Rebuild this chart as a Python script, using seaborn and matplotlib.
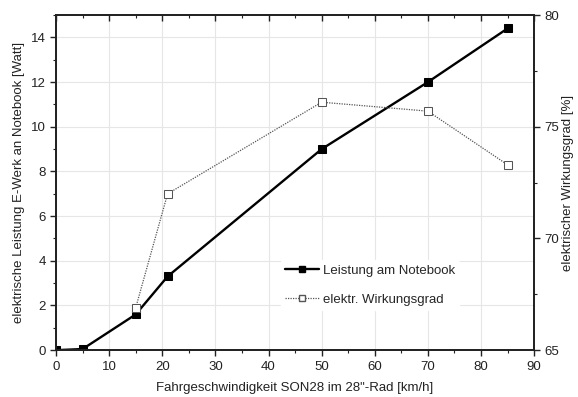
import matplotlib
matplotlib.use("Agg")
import matplotlib.pyplot as plt
from matplotlib.ticker import MultipleLocator
from matplotlib.lines import Line2D
import seaborn as sns
import pandas as pd

# Power delivered to the notebook vs. speed
speed_power = [0, 5, 15, 21, 50, 70, 85]
power_watt = [0.0, 0.05, 1.6, 3.3, 9.0, 12.0, 14.4]

# Electrical efficiency vs. speed
speed_eff = [15, 21, 50, 70, 85]
efficiency_pct = [66.9, 72.0, 76.1, 75.7, 73.3]

x_label = "Fahrgeschwindigkeit SON28 im 28\"-Rad [km/h]"
y_label_left = "elektrische Leistung E-Werk an Notebook [Watt]"
y_label_right = "elektrischer Wirkungsgrad [%]"
legend_power = "Leistung am Notebook"
legend_eff = "elektr. Wirkungsgrad"

sns.set_theme(style="white")
plt.rcParams["font.family"] = ["Liberation Sans", "DejaVu Sans"]
plt.rcParams["font.size"] = 9.5

df_p = pd.DataFrame({"v": speed_power, "P": power_watt})
df_e = pd.DataFrame({"v": speed_eff, "eta": efficiency_pct})

fig = plt.figure(figsize=(5.78, 3.97), dpi=100)
ax = fig.add_axes([0.097, 0.118, 0.827, 0.844])
ax2 = ax.twinx()

grid_col = "#e6e6e6"
ax.set_axisbelow(True)
ax.grid(True, which="major", color=grid_col, linewidth=0.8)

sns.lineplot(data=df_p, x="v", y="P", ax=ax, color="black", linewidth=1.7,
             marker="s", markersize=5.5, markerfacecolor="black",
             markeredgecolor="black", legend=False)
sns.lineplot(data=df_e, x="v", y="eta", ax=ax2, color="#555555", linewidth=0.9,
             linestyle=(0, (1, 1)), marker="s", markersize=5.5,
             markerfacecolor="white", markeredgecolor="#555555", legend=False)

ax.set_xlim(0, 90)
ax.set_ylim(0, 15)
ax2.set_ylim(65, 80)

ax.xaxis.set_major_locator(MultipleLocator(10))
ax.xaxis.set_minor_locator(MultipleLocator(5))
ax.yaxis.set_major_locator(MultipleLocator(2))
ax.yaxis.set_minor_locator(MultipleLocator(1))
ax2.yaxis.set_major_locator(MultipleLocator(5))
ax2.yaxis.set_minor_locator(MultipleLocator(2.5))

ax.set_xlabel(x_label, fontsize=9.5, color="#222222", labelpad=7)
ax.set_ylabel(y_label_left, fontsize=9.5, color="#222222", labelpad=4)
ax2.set_ylabel(y_label_right, fontsize=9.5, color="#222222", rotation=90, labelpad=2)
ax2.set_xlabel("")

for a in (ax, ax2):
    for s in a.spines.values():
        s.set_color("#222222")
        s.set_linewidth(1.3)
    a.tick_params(which="major", length=4, width=1.0, colors="#222222",
                  labelsize=9.5, direction="out")
    a.tick_params(which="minor", length=2.5, width=0.8, colors="#222222",
                  direction="out")
ax.tick_params(axis="x", which="both", top=False, bottom=True)
ax.tick_params(axis="y", which="both", left=True)

# top ticks point into the plot, drawn on the twin axes' shared x-axis
ax2.xaxis.set_visible(True)
ax2.tick_params(axis="x", which="both", bottom=False, top=True,
                labelbottom=False, labeltop=False, direction="in",
                colors="#222222")
ax2.tick_params(axis="x", which="major", length=4, width=1.0)
ax2.tick_params(axis="x", which="minor", length=2.5, width=0.8)

handles = [
    Line2D([], [], color="black", linewidth=1.7, marker="s", markersize=4.5,
           markerfacecolor="black"),
    Line2D([], [], color="#555555", linewidth=0.9, linestyle=(0, (1, 1)),
           marker="s", markersize=4.5, markerfacecolor="white",
           markeredgecolor="#555555"),
]
leg = ax.legend(handles, [legend_power, legend_eff], loc="upper left",
                bbox_to_anchor=(0.47, 0.268), frameon=True, fontsize=9.5,
                handlelength=2.6, handletextpad=0.3, labelspacing=1.3,
                borderaxespad=0, borderpad=0.3)
leg.get_frame().set_edgecolor("white")
leg.get_frame().set_facecolor("white")
leg.get_frame().set_alpha(1.0)
leg.set_zorder(5)

fig.savefig("out.png", dpi=100)
